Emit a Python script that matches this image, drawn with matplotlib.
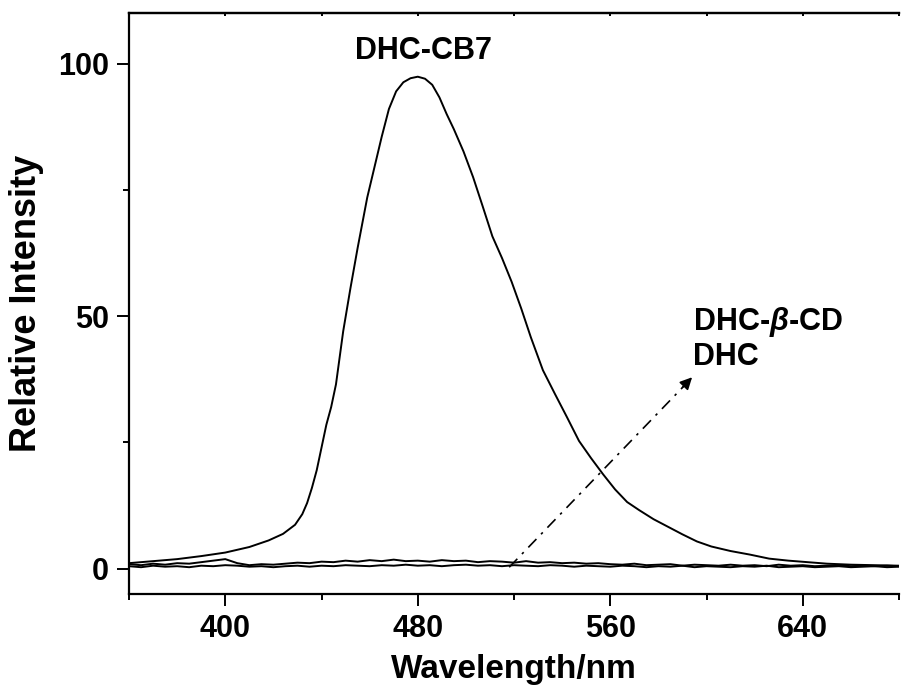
import numpy as np
import matplotlib
matplotlib.use("Agg")
import matplotlib.pyplot as plt
from matplotlib.ticker import MultipleLocator

plt.rcParams['font.family'] = ['Liberation Sans', 'DejaVu Sans']
plt.rcParams['font.weight'] = 'bold'
plt.rcParams['mathtext.fontset'] = 'custom'
plt.rcParams['mathtext.it'] = 'Liberation Sans:italic:bold'
plt.rcParams['mathtext.rm'] = 'Liberation Sans:bold'

# DHC-CB7 emission
cb7_wl = [360, 370, 380, 390, 400, 410, 418, 424, 429, 432, 434, 436, 438, 440,
          442, 444, 446, 449, 452, 455, 459, 462, 465, 468, 471, 474, 477, 480,
          483, 486, 489, 492, 495, 499, 503, 507, 511, 515, 519, 523, 527, 532,
          537, 542, 547, 552, 557, 562, 567, 572, 578, 584, 590, 596, 602, 610,
          618, 626, 634, 642, 650, 660, 670, 680]
cb7_int = [1.1, 1.5, 1.9, 2.5, 3.2, 4.3, 5.6, 6.9, 8.7, 10.8, 13.0, 16.0, 19.5, 24.0,
           28.5, 32.0, 36.5, 47.0, 55.5, 63.5, 73.5, 79.5, 85.5, 91.0, 94.5, 96.3, 97.1, 97.4,
           97.0, 95.8, 93.3, 90.0, 87.0, 82.6, 77.5, 71.7, 65.8, 61.5, 56.8, 51.5, 45.8, 39.3,
           34.6, 30.0, 25.3, 21.9, 18.7, 15.7, 13.2, 11.6, 9.8, 8.3, 6.8, 5.4, 4.4, 3.5,
           2.8, 2.0, 1.6, 1.3, 1.0, 0.8, 0.7, 0.6]

# DHC-beta-CD and DHC baselines, 5 nm steps
base_wl = [360, 365, 370, 375, 380, 385, 390, 395, 400, 405, 410, 415, 420, 425, 430,
           435, 440, 445, 450, 455, 460, 465, 470, 475, 480, 485, 490, 495, 500, 505,
           510, 515, 520, 525, 530, 535, 540, 545, 550, 555, 560, 565, 570, 575, 580,
           585, 590, 595, 600, 605, 610, 615, 620, 625, 630, 635, 640, 645, 650, 655,
           660, 665, 670, 675, 680]
bcd_int = [0.9, 0.7, 1.0, 0.8, 1.1, 1.0, 1.3, 1.6, 1.9, 1.1, 0.7, 0.9, 0.8, 1.0, 1.2,
           1.1, 1.4, 1.3, 1.6, 1.4, 1.7, 1.5, 1.8, 1.5, 1.6, 1.4, 1.7, 1.5, 1.6, 1.3,
           1.5, 1.4, 1.2, 1.5, 1.2, 1.3, 1.1, 1.2, 1.0, 1.1, 0.9, 0.8, 1.0, 0.7, 0.8,
           0.9, 0.6, 0.8, 0.7, 0.6, 0.8, 0.6, 0.7, 0.5, 0.8, 0.6, 0.7, 0.5, 0.6, 0.7,
           0.5, 0.6, 0.5, 0.6, 0.5]
dhc_int = [0.5, 0.3, 0.6, 0.4, 0.5, 0.3, 0.6, 0.5, 0.7, 0.6, 0.4, 0.5, 0.3, 0.5, 0.6,
           0.4, 0.6, 0.5, 0.7, 0.6, 0.5, 0.7, 0.6, 0.8, 0.6, 0.7, 0.5, 0.7, 0.8, 0.6,
           0.7, 0.5, 0.7, 0.6, 0.5, 0.7, 0.6, 0.4, 0.6, 0.5, 0.4, 0.6, 0.5, 0.3, 0.5,
           0.4, 0.6, 0.3, 0.5, 0.4, 0.3, 0.5, 0.4, 0.6, 0.3, 0.4, 0.5, 0.3, 0.4, 0.5,
           0.3, 0.4, 0.5, 0.3, 0.4]

# arrow from baseline towards labels
arrow_start = (518, 0.3)
arrow_end = (594, 37.9)

fig = plt.figure(figsize=(9.03, 6.87), dpi=100)
ax = fig.add_axes([0.1429, 0.1354, 0.9956 - 0.1429, 0.981 - 0.1354])

lw = 1.4
ax.plot(cb7_wl, cb7_int, color='black', lw=lw)
ax.plot(base_wl, bcd_int, color='black', lw=lw)
ax.plot(base_wl, dhc_int, color='black', lw=lw)

ax.plot([arrow_start[0], arrow_end[0] - 1.5], [arrow_start[1], arrow_end[1] - 0.8],
        color='black', lw=1.2, dashes=(7, 4, 1.5, 4))
ax.annotate('', xy=arrow_end, xytext=(arrow_end[0] - 4, arrow_end[1] - 2.0),
            arrowprops=dict(arrowstyle='-|>', color='black', lw=1.2,
                            mutation_scale=18, shrinkA=0, shrinkB=0))

ax.text(453.9, 101, 'DHC-CB7', fontsize=22, fontweight='bold', va='baseline')
ax.text(594.2, 47.2, 'DHC-$\\beta$-CD', fontsize=22, fontweight='bold', va='baseline')
ax.text(594.2, 40.3, 'DHC', fontsize=22, fontweight='bold', va='baseline')

ax.set_xlim(360, 680)
ax.set_ylim(-5, 110)
ax.xaxis.set_minor_locator(MultipleLocator(40))
ax.set_xticks([400, 480, 560, 640])
ax.yaxis.set_major_locator(MultipleLocator(50))
ax.yaxis.set_minor_locator(MultipleLocator(25))

for s in ['left', 'bottom', 'top']:
    ax.spines[s].set_linewidth(1.6)
ax.spines['right'].set_visible(False)

ax.tick_params(axis='both', which='major', direction='out', length=8.5, width=1.4,
               labelsize=22, pad=6, top=False, right=False)
ax.tick_params(axis='both', which='minor', direction='out', length=4.5, width=1.4,
               top=False, right=False)

# short inward ticks on the top spine, no labels
top = ax.secondary_xaxis('top')
top.set_xticks([400, 480, 560, 640])
top.xaxis.set_minor_locator(MultipleLocator(40))
top.tick_params(which='both', direction='in', length=2.5, width=1.4, labeltop=False)
top.spines['top'].set_linewidth(1.6)

for lab in ax.get_xticklabels() + ax.get_yticklabels():
    lab.set_fontweight('bold')

ax.set_xlabel('Wavelength/nm', fontsize=24, fontweight='bold', labelpad=7)
ax.set_ylabel('Relative Intensity', fontsize=26, fontweight='bold', labelpad=10)

fig.savefig('out.png', dpi=100)
